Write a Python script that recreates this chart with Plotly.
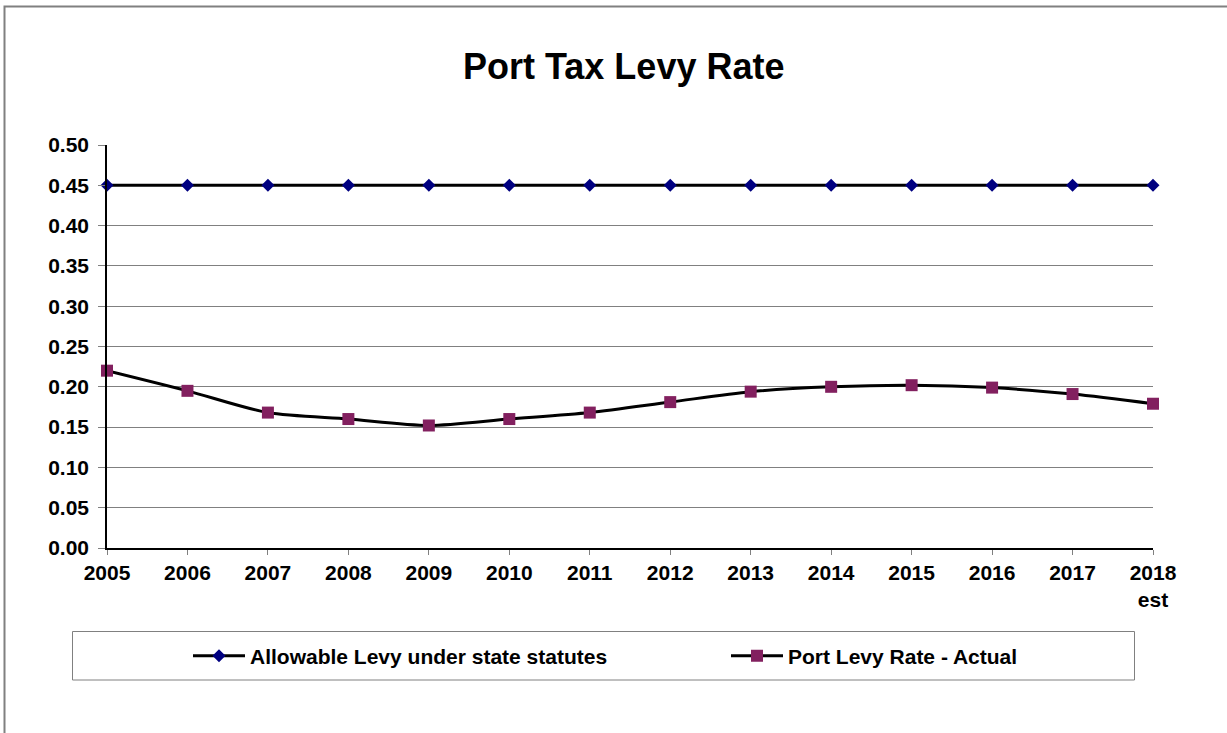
import plotly.graph_objects as go

# Chart data
years = [2005, 2006, 2007, 2008, 2009, 2010, 2011, 2012, 2013, 2014, 2015, 2016, 2017, 2018]
year_labels = ["2005", "2006", "2007", "2008", "2009", "2010", "2011", "2012",
               "2013", "2014", "2015", "2016", "2017", "2018<br>est"]
allowable_levy = [0.45, 0.45, 0.45, 0.45, 0.45, 0.45, 0.45,
                  0.45, 0.45, 0.45, 0.45, 0.45, 0.45, 0.45]
actual_levy = [0.220, 0.195, 0.168, 0.160, 0.152, 0.160, 0.168,
               0.181, 0.194, 0.200, 0.202, 0.199, 0.191, 0.179]
y_ticks = [0.00, 0.05, 0.10, 0.15, 0.20, 0.25, 0.30, 0.35, 0.40, 0.45, 0.50]

W, H = 1227, 733
L, R, T, B = 107, 74, 145, 185
PW, PH = W - L - R, H - T - B


def px_x(p):
    return (p - L) / PW


def px_y(p):
    return (H - B - p) / PH


FONT = "Liberation Sans, Arial, sans-serif"
LEGEND_FONT = dict(family=FONT, size=21, color="black", weight="bold")

fig = go.Figure()

fig.add_trace(go.Scatter(
    x=years, y=allowable_levy, name="Allowable Levy under state statutes",
    mode="lines+markers",
    line=dict(color="black", width=3),
    marker=dict(symbol="diamond", size=10, color="#000080"),
    cliponaxis=False, legend="legend",
))

fig.add_trace(go.Scatter(
    x=years, y=actual_levy, name="Port Levy Rate - Actual",
    mode="lines+markers",
    line=dict(color="black", width=3, shape="spline", smoothing=0.8),
    marker=dict(symbol="square", size=12, color="#82205F"),
    cliponaxis=False, legend="legend2",
))

# outer chart frame and legend box
fig.add_shape(type="rect", xref="paper", yref="paper",
              x0=px_x(4.5), x1=px_x(1260), y0=px_y(760), y1=px_y(6.5),
              line=dict(color="#808080", width=2), layer="below")
fig.add_shape(type="rect", xref="paper", yref="paper",
              x0=px_x(72.5), x1=px_x(1134.5), y0=px_y(680), y1=px_y(631.5),
              line=dict(color="#808080", width=1), layer="below")

fig.add_annotation(text="<b>Port Tax Levy Rate</b>", xref="paper", yref="paper",
                   x=px_x(623), y=px_y(66), xanchor="center", yanchor="middle",
                   showarrow=False, font=dict(family=FONT, size=36, color="black"))

legend_common = dict(orientation="h", yanchor="middle", xanchor="left",
                     bgcolor="rgba(0,0,0,0)", borderwidth=0,
                     itemwidth=52, font=LEGEND_FONT)

fig.update_layout(
    width=W, height=H,
    margin=dict(l=L, r=R, t=T, b=B),
    paper_bgcolor="white", plot_bgcolor="white",
    font=dict(family=FONT, size=21, color="black", weight="bold"),
    showlegend=True,
    legend=dict(x=px_x(188), y=px_y(656), **legend_common),
    legend2=dict(x=px_x(726), y=px_y(656), **legend_common),
    xaxis=dict(
        range=[2005, 2018], tickmode="array", tickvals=years, ticktext=year_labels,
        showgrid=False, zeroline=False,
        showline=True, linecolor="black", linewidth=1.5,
        ticks="outside", ticklen=5, tickcolor="#808080",
        tickfont=dict(family=FONT, size=21, color="black", weight="bold"),
        fixedrange=True,
    ),
    yaxis=dict(
        range=[0, 0.5], tickmode="array", tickvals=y_ticks,
        ticktext=[f"{v:.2f}" for v in y_ticks],
        showgrid=True, gridcolor="#808080", gridwidth=1, zeroline=False,
        showline=True, linecolor="black", linewidth=1.5,
        ticks="outside", ticklen=7, tickcolor="#808080",
        ticklabelstandoff=5,
        tickfont=dict(family=FONT, size=21, color="black", weight="bold"),
        fixedrange=True,
    ),
)

fig.write_html("out.html")
